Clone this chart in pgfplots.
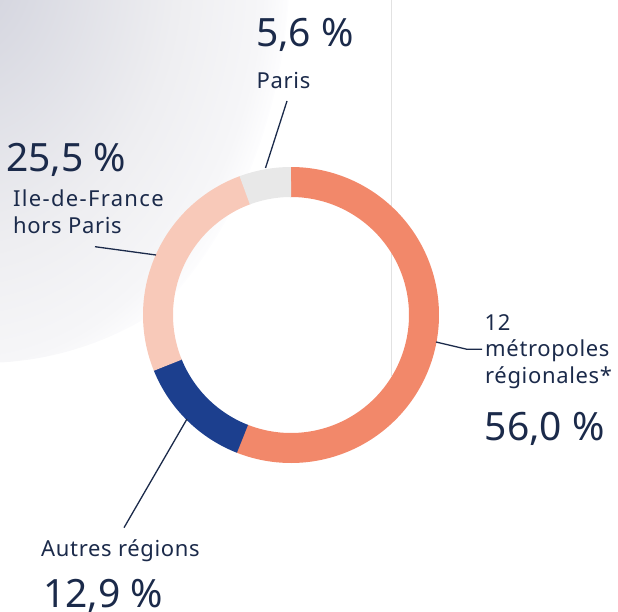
\documentclass[border=0pt]{standalone}
\usepackage{fontspec}
\setmainfont{Noto Sans}
\usepackage{pgfplots}
\usepackage{pgfplotstable}
\pgfplotsset{compat=1.18}

\definecolor{cMetro}{HTML}{F2886A}
\definecolor{cAutres}{HTML}{1C3F8E}
\definecolor{cIdf}{HTML}{F8C9B9}
\definecolor{cParis}{HTML}{E8E8E8}
\definecolor{txt}{HTML}{1B2A4A}
\definecolor{vline}{HTML}{E2E2E2}
\definecolor{bgA}{HTML}{CDCED8}
\definecolor{bgB}{HTML}{D6D7E0}
\definecolor{bgC}{HTML}{EEEEF1}
\definecolor{bgD}{HTML}{F6F6F8}
\definecolor{bgE}{HTML}{FDFDFE}

\pgfdeclareradialshading{bgshade}{\pgfpoint{0bp}{0bp}}{%
  color(0bp)=(bgA); color(3.75bp)=(bgB); color(16.5bp)=(bgC);
  color(23bp)=(bgD); color(25bp)=(bgE); color(50bp)=(white)}

% share of each category, in percent (clockwise from the top)
\pgfplotstableread{
label  value
metro  56.0
autres 12.9
idf    25.5
paris  5.6
}\donutdata

\newcommand{\labfont}{\fontsize{22}{26}\selectfont\addfontfeature{LetterSpace=3}}
\newcommand{\pctfont}{\fontsize{39}{44}\selectfont}

\begin{document}
\begin{tikzpicture}
\useasboundingbox (0,0) rectangle (618pt,612pt);

% cumulative angles (start at 90 deg, clockwise)
\pgfplotstablegetelem{0}{value}\of\donutdata \let\vA\pgfplotsretval
\pgfplotstablegetelem{1}{value}\of\donutdata \let\vB\pgfplotsretval
\pgfplotstablegetelem{2}{value}\of\donutdata \let\vC\pgfplotsretval
\pgfplotstablegetelem{3}{value}\of\donutdata \let\vD\pgfplotsretval
\pgfmathsetmacro\aA{90}
\pgfmathsetmacro\aB{\aA-3.6*\vA}
\pgfmathsetmacro\aC{\aB-3.6*\vB}
\pgfmathsetmacro\aD{\aC-3.6*\vC}
\pgfmathsetmacro\aE{\aD-3.6*\vD}

\begin{axis}[
  at={(0,0)}, anchor=south west,
  scale only axis, width=618pt, height=612pt,
  xmin=0, xmax=618, ymin=0, ymax=612, y dir=reverse,
  hide axis, clip=false,
]
% background
\begin{scope}
  \clip (axis cs:0,0) rectangle (axis cs:618,612);
  \clip (axis cs:-18,42) circle[radius=321pt];
  \shade[shading=bgshade] (axis cs:-40,-40) ellipse[x radius=330pt, y radius=440pt];
\end{scope}
\draw[vline, line width=1pt] (axis cs:391.7,0) -- (axis cs:391.7,376);

% donut ring
\addplot[draw=cMetro, line width=30pt, domain=\aB:\aA+0.2, samples=150, variable=\t]
  ({291+133*cos(\t)},{315-133*sin(\t)});
\addplot[draw=cAutres, line width=30pt, domain=\aC:\aB+0.2, samples=60, variable=\t]
  ({291+133*cos(\t)},{315-133*sin(\t)});
\addplot[draw=cIdf, line width=30pt, domain=\aD:\aC+0.2, samples=100, variable=\t]
  ({291+133*cos(\t)},{315-133*sin(\t)});
\addplot[draw=cParis, line width=30pt, domain=\aE:\aD+0.2, samples=30, variable=\t]
  ({291+133*cos(\t)},{315-133*sin(\t)});

% leader lines
\draw[txt, line width=1.3pt] (axis cs:287,101) -- (axis cs:265.5,168);
\draw[txt, line width=1.3pt] (axis cs:95,246.7) -- (axis cs:156,255);
\draw[txt, line width=1.3pt] (axis cs:436,342) -- (axis cs:467,349.3) -- (axis cs:482,349.3);
\draw[txt, line width=1.3pt] (axis cs:124,527.7) -- (axis cs:187,419);

% texts
\begin{scope}[every node/.style={inner sep=0pt, anchor=base west, text=txt}]
\node at (axis cs:256,47) {\pctfont 5,6 \%};
\node at (axis cs:256.5,89) {\labfont Paris};
\node at (axis cs:6,171.7) {\pctfont 25,5 \%};
\node at (axis cs:13,206.7) {\labfont\addfontfeature{LetterSpace=6} Ile-de-France};
\node at (axis cs:13,233.3) {\labfont hors Paris};
\node at (axis cs:484.5,330) {\labfont 12};
\node at (axis cs:485,356.7) {\labfont métropoles};
\node at (axis cs:485,383.3) {\labfont régionales*};
\node at (axis cs:484.5,440) {\pctfont 56,0 \%};
\node at (axis cs:41,556.7) {\labfont Autres régions};
\node at (axis cs:43,607) {\pctfont 12,9 \%};
\end{scope}
\end{axis}
\end{tikzpicture}
\end{document}
